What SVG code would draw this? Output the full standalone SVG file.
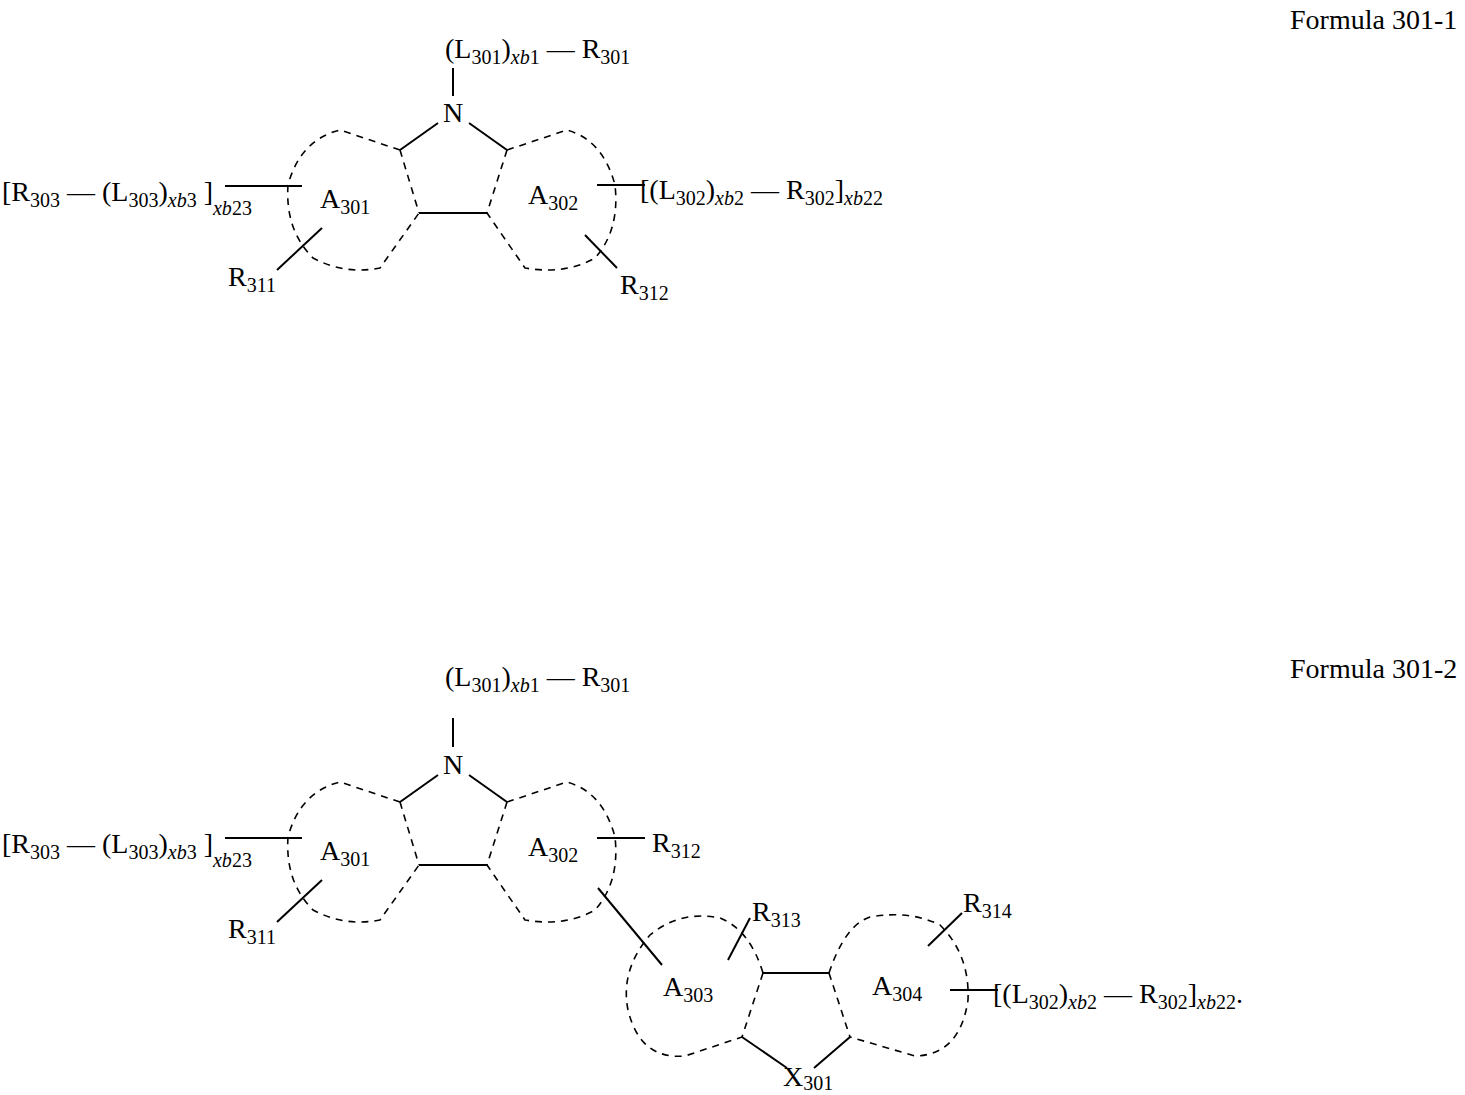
<svg xmlns="http://www.w3.org/2000/svg" width="1465" height="1095" viewBox="0 0 1465 1095">
<style>
text{font-family:"Liberation Serif","Times New Roman",serif;font-size:28px;fill:#000}
.s{font-size:20px}
.i{font-style:italic}
.b{stroke:#000;stroke-width:2;fill:none}
.d{stroke:#000;stroke-width:1.6;fill:none;stroke-dasharray:7,6}
</style>
<rect width="1465" height="1095" fill="#fff"/>
<text x="1290" y="29">Formula 301-1</text>
<text x="1290" y="678">Formula 301-2</text>

<g id="f1">
<text x="445" y="58">(L<tspan class="s" dy="6">301</tspan><tspan dy="-6">)</tspan><tspan class="s i" dy="6">xb</tspan><tspan class="s">1</tspan><tspan dy="-6"> — R</tspan><tspan class="s" dy="6">301</tspan></text>
<line class="b" x1="453" y1="68" x2="453" y2="96"/>
<text x="443" y="122">N</text>
<line class="b" x1="438" y1="123" x2="400" y2="150"/>
<line class="b" x1="469" y1="123" x2="507" y2="150"/>
<line class="b" x1="419" y1="213" x2="487" y2="213"/>
<line class="d" x1="400" y1="150" x2="419" y2="213"/>
<line class="d" x1="507" y1="150" x2="487" y2="213"/>
<path class="d" d="M400,150 L340,130 Q300,140 288,185 Q285,230 313,258 Q345,275 380,268 L419,213"/>
<path class="d" d="M507,150 L567,130 Q603,140 615,185 Q620,230 595,258 Q565,275 525,268 L487,213"/>
<text x="320" y="208">A<tspan class="s" dy="6">301</tspan></text>
<text x="528" y="204">A<tspan class="s" dy="6">302</tspan></text>
<text x="2" y="201">[R<tspan class="s" dy="6">303</tspan><tspan dy="-6"> — (L</tspan><tspan class="s" dy="6">303</tspan><tspan dy="-6">)</tspan><tspan class="s i" dy="6">xb</tspan><tspan class="s">3</tspan><tspan dy="-6"> ]</tspan><tspan class="s i" dy="14">xb</tspan><tspan class="s">23</tspan></text>
<line class="b" x1="225" y1="186" x2="302" y2="186"/>
<line class="b" x1="277" y1="270" x2="322" y2="228"/>
<text x="228" y="286">R<tspan class="s" dy="6">311</tspan></text>
<line class="b" x1="597" y1="185" x2="645" y2="185"/>
<text x="640" y="199">[(L<tspan class="s" dy="6">302</tspan><tspan dy="-6">)</tspan><tspan class="s i" dy="6">xb</tspan><tspan class="s">2</tspan><tspan dy="-6"> — R</tspan><tspan class="s" dy="6">302</tspan><tspan dy="-6">]</tspan><tspan class="s i" dy="6">xb</tspan><tspan class="s">22</tspan></text>
<line class="b" x1="585" y1="235" x2="617" y2="268"/>
<text x="620" y="294">R<tspan class="s" dy="6">312</tspan></text>
</g>

<g id="f2">
<text x="445" y="686">(L<tspan class="s" dy="6">301</tspan><tspan dy="-6">)</tspan><tspan class="s i" dy="6">xb</tspan><tspan class="s">1</tspan><tspan dy="-6"> — R</tspan><tspan class="s" dy="6">301</tspan></text>
<line class="b" x1="453" y1="718" x2="453" y2="747"/>
<g transform="translate(0,652)">
<text x="443" y="122">N</text>
<line class="b" x1="438" y1="123" x2="400" y2="150"/>
<line class="b" x1="469" y1="123" x2="507" y2="150"/>
<line class="b" x1="419" y1="213" x2="487" y2="213"/>
<line class="d" x1="400" y1="150" x2="419" y2="213"/>
<line class="d" x1="507" y1="150" x2="487" y2="213"/>
<path class="d" d="M400,150 L340,130 Q300,140 288,185 Q285,230 313,258 Q345,275 380,268 L419,213"/>
<path class="d" d="M507,150 L567,130 Q603,140 615,185 Q620,230 595,258 Q565,275 525,268 L487,213"/>
<text x="320" y="208">A<tspan class="s" dy="6">301</tspan></text>
<text x="528" y="204">A<tspan class="s" dy="6">302</tspan></text>
<text x="2" y="201">[R<tspan class="s" dy="6">303</tspan><tspan dy="-6"> — (L</tspan><tspan class="s" dy="6">303</tspan><tspan dy="-6">)</tspan><tspan class="s i" dy="6">xb</tspan><tspan class="s">3</tspan><tspan dy="-6"> ]</tspan><tspan class="s i" dy="14">xb</tspan><tspan class="s">23</tspan></text>
<line class="b" x1="225" y1="186" x2="302" y2="186"/>
<line class="b" x1="277" y1="270" x2="322" y2="228"/>
<text x="228" y="286">R<tspan class="s" dy="6">311</tspan></text>
<line class="b" x1="597" y1="186" x2="645" y2="186"/>
<text x="652" y="200">R<tspan class="s" dy="6">312</tspan></text>
</g>
<line class="b" x1="598" y1="888" x2="662" y2="965"/>
<line class="b" x1="763" y1="973" x2="829" y2="973"/>
<line class="d" x1="763" y1="973" x2="742" y2="1037"/>
<line class="d" x1="829" y1="973" x2="850" y2="1037"/>
<line class="b" x1="742" y1="1037" x2="787" y2="1068"/>
<line class="b" x1="850" y1="1037" x2="814" y2="1068"/>
<text x="783" y="1086">X<tspan class="s" dy="4">301</tspan></text>
<path class="d" d="M763,973 Q750,930 720,918 Q680,910 650,935 Q620,970 628,1010 Q640,1060 685,1056 L742,1037"/>
<path class="d" d="M829,973 Q845,925 870,917 Q910,910 940,925 Q970,955 968,1000 Q960,1055 915,1056 L850,1037"/>
<text x="663" y="996">A<tspan class="s" dy="6">303</tspan></text>
<text x="872" y="995">A<tspan class="s" dy="6">304</tspan></text>
<line class="b" x1="728" y1="960" x2="750" y2="918"/>
<text x="752" y="921">R<tspan class="s" dy="6">313</tspan></text>
<line class="b" x1="928" y1="946" x2="962" y2="913"/>
<text x="963" y="912">R<tspan class="s" dy="6">314</tspan></text>
<line class="b" x1="950" y1="990" x2="998" y2="990"/>
<text x="993" y="1003">[(L<tspan class="s" dy="6">302</tspan><tspan dy="-6">)</tspan><tspan class="s i" dy="6">xb</tspan><tspan class="s">2</tspan><tspan dy="-6"> — R</tspan><tspan class="s" dy="6">302</tspan><tspan dy="-6">]</tspan><tspan class="s i" dy="6">xb</tspan><tspan class="s">22</tspan><tspan dy="-6">.</tspan></text>
</g>
</svg>
